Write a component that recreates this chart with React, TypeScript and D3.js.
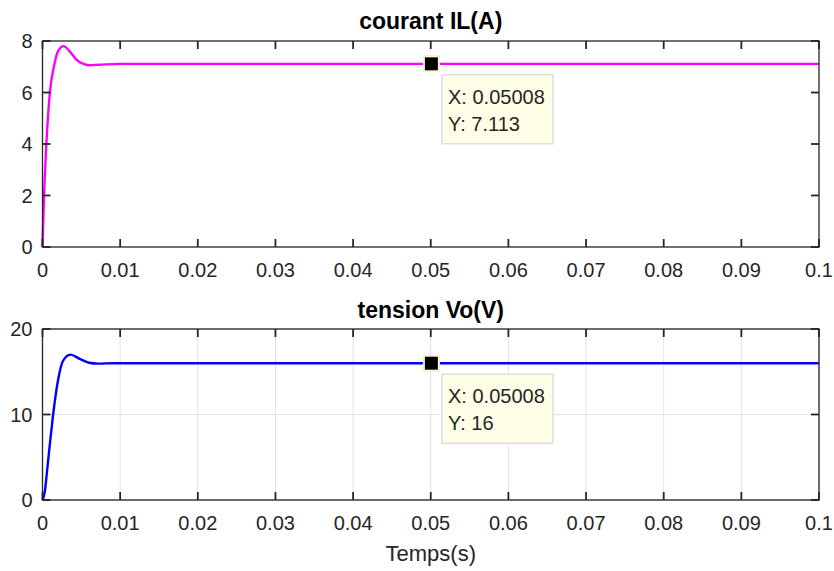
import * as d3 from "d3";

// time axis ticks (s)
const xTicks = [0, 0.01, 0.02, 0.03, 0.04, 0.05, 0.06, 0.07, 0.08, 0.09, 0.1];

// courant IL(A)
const ilTime = [0, 0.0002, 0.0005, 0.00095, 0.0015, 0.002, 0.0027, 0.0035, 0.0043, 0.0052, 0.006, 0.0074, 0.01, 0.03, 0.05008, 0.07, 0.1];
const ilValue = [0, 2, 4, 6, 7.05, 7.6, 7.8, 7.6, 7.3, 7.12, 7.06, 7.08, 7.11, 7.113, 7.113, 7.113, 7.113];

// tension Vo(V)
const voTime = [0, 0.0003, 0.0006, 0.001, 0.00137, 0.002, 0.0026, 0.0036, 0.0048, 0.006, 0.0071, 0.0093, 0.03, 0.05008, 0.07, 0.1];
const voValue = [0, 1, 3.5, 7, 10, 14, 16.2, 17, 16.5, 16.05, 15.95, 16, 16, 16, 16, 16];

const ilTicks = [0, 2, 4, 6, 8];
const voTicks = [0, 10, 20];

const tipX = 0.05008;
const ilTip = 7.113;
const voTip = 16;

const W = 834;
const H = 571;
const left = 42.5;
const right = 819;
const font = "Arial, 'Liberation Sans', sans-serif";
const ink = "#262626";

type PanelProps = {
  top: number;
  bottom: number;
  titleY: number;
  yMax: number;
  yTicks: number[];
  time: number[];
  values: number[];
  color: string;
  title: string;
  grid: boolean;
  tipY: number;
  tipLabel: string;
};

function Panel({ top, bottom, titleY, yMax, yTicks, time, values, color, title, grid, tipY, tipLabel }: PanelProps) {
  const x = d3.scaleLinear().domain([0, 0.1]).range([left, right]);
  const y = d3.scaleLinear().domain([0, yMax]).range([bottom, top]);
  const pts = time.map((t, i) => [t, values[i]] as [number, number]);
  const line = d3
    .line<[number, number]>()
    .x((d) => x(d[0]))
    .y((d) => y(d[1]))
    .curve(d3.curveMonotoneX);
  const mx = x(tipX);
  const my = y(tipY);
  const bx = 442;
  const by = my + 11;
  return (
    <g>
      <text x={(left + right) / 2} y={titleY} textAnchor="middle" fontFamily={font} fontWeight="bold" fontSize={23} fill="#000">
        {title}
      </text>
      {grid &&
        xTicks.map((t) => (
          <line key={"gx" + t} x1={x(t)} x2={x(t)} y1={top} y2={bottom} stroke="#e3e3e3" strokeWidth={1} />
        ))}
      {grid &&
        yTicks.map((v) => (
          <line key={"gy" + v} x1={left} x2={right} y1={y(v)} y2={y(v)} stroke="#e3e3e3" strokeWidth={1} />
        ))}
      <path d={line(pts) || ""} fill="none" stroke={color} strokeWidth={2.4} />
      <rect x={left} y={top} width={right - left} height={bottom - top} fill="none" stroke={ink} strokeWidth={1.3} />
      {xTicks.map((t) => (
        <g key={"xt" + t}>
          <line x1={x(t)} x2={x(t)} y1={bottom} y2={bottom - 8} stroke={ink} strokeWidth={1.8} />
          <line x1={x(t)} x2={x(t)} y1={top} y2={top + 8} stroke={ink} strokeWidth={1.8} />
          <text x={x(t)} y={bottom + 30} textAnchor="middle" fontFamily={font} fontSize={20} fill={ink}>
            {t === 0 ? "0" : d3.format("~g")(t)}
          </text>
        </g>
      ))}
      {yTicks.map((v) => (
        <g key={"yt" + v}>
          <line x1={left} x2={left + 8} y1={y(v)} y2={y(v)} stroke={ink} strokeWidth={1.8} />
          <line x1={right} x2={right - 8} y1={y(v)} y2={y(v)} stroke={ink} strokeWidth={1.8} />
          <text x={left - 10} y={y(v) + 7} textAnchor="end" fontFamily={font} fontSize={20} fill={ink}>
            {v}
          </text>
        </g>
      ))}
      <rect x={mx - 8} y={my - 8} width={16} height={16} fill="#ffffe1" stroke="#f0eecc" strokeWidth={1} />
      <rect x={mx - 6.5} y={my - 6.5} width={13} height={13} fill="#000" />
      <rect x={bx} y={by} width={111} height={69} fill="#ffffe8" stroke="#d6d6d6" strokeWidth={1.2} />
      <text x={bx + 6} y={by + 29} fontFamily={font} fontSize={20} fill={ink}>
        {"X: " + tipX}
      </text>
      <text x={bx + 6} y={by + 56} fontFamily={font} fontSize={20} fill={ink}>
        {"Y: " + tipLabel}
      </text>
    </g>
  );
}

export default function App() {
  return (
    <svg width={W} height={H} style={{ position: "absolute", left: 0, top: 0, background: "#fff" }}>
      <rect width={W} height={H} fill="#fff" />
      <Panel
        top={41}
        bottom={247}
        titleY={29}
        yMax={8}
        yTicks={ilTicks}
        time={ilTime}
        values={ilValue}
        color="#ff00ff"
        title="courant IL(A)"
        grid={false}
        tipY={ilTip}
        tipLabel={String(ilTip)}
      />
      <Panel
        top={329}
        bottom={500}
        titleY={318}
        yMax={20}
        yTicks={voTicks}
        time={voTime}
        values={voValue}
        color="#0000ff"
        title="tension Vo(V)"
        grid={true}
        tipY={voTip}
        tipLabel={String(voTip)}
      />
      <text x={(left + right) / 2} y={561} textAnchor="middle" fontFamily={font} fontSize={22} fill={ink}>
        Temps(s)
      </text>
    </svg>
  );
}
